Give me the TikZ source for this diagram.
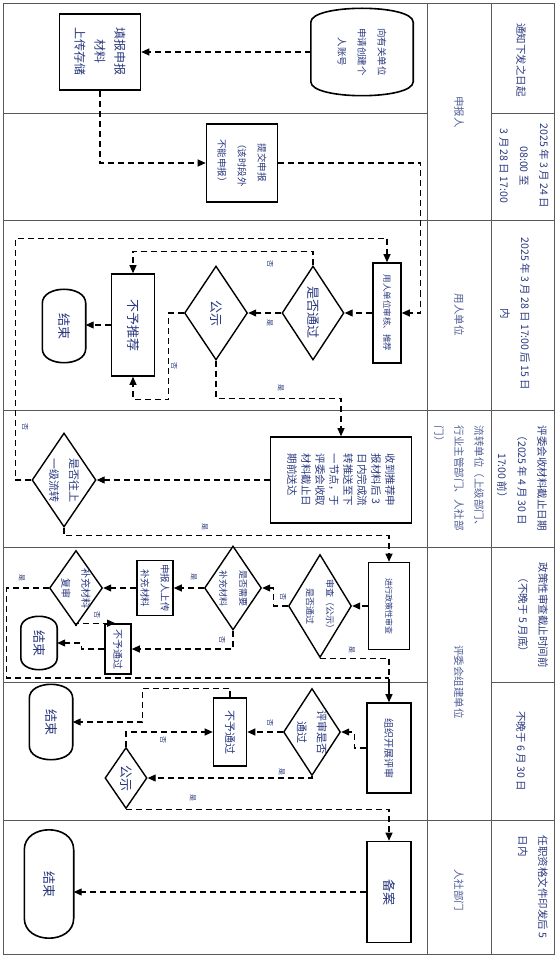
\documentclass[tikz,border=0pt]{standalone}
\usepackage{fontspec}
\setmainfont{Noto Sans CJK SC}
\usetikzlibrary{shapes.geometric,arrows.meta}
\definecolor{ink}{RGB}{40,55,125}
\definecolor{laneink}{RGB}{80,95,150}
\tikzset{
  outl/.style={draw=black,line width=1.6pt},
  box/.style={rectangle,outl,inner sep=0pt},
  decision/.style={diamond,draw=black,line width=1.4pt,inner sep=0pt},
  term/.style={rectangle,inner sep=0pt},
  sz/.style 2 args={minimum width=#1pt,minimum height=#2pt},
  txt/.style={rotate=-90,align=center,text=ink,font=\fontsize{#1}{20}\selectfont},
  flow/.style={line width=1.1pt,dash pattern=on 6pt off 4pt,-{Triangle[length=8pt,width=7pt]}},
  flowline/.style={line width=1.1pt,dash pattern=on 6pt off 4pt},
  solidflow/.style={line width=1.1pt,-{Triangle[length=8pt,width=7pt]}},
  yn/.style={rotate=-90,text=ink,font=\fontsize{7}{7}\selectfont,inner sep=0pt},
  lane/.style={draw=gray!70!black,line width=0.9pt},
  side/.style={rotate=-90,align=center,text=laneink,font=\fontsize{10.5}{20}\selectfont},
  when/.style={rotate=-90,align=center,text=ink,font=\fontsize{10.5}{20}\selectfont}
}
% outline of a terminal: straight sides, curved ends
\newcommand\termline[2]{%
  \draw[outl] ([yshift=-#2pt]#1.north west) -- ([yshift=#2pt]#1.south west)
    .. controls ([yshift=-#2pt/3]#1.south west) and ([yshift=-#2pt/3]#1.south east) .. ([yshift=#2pt]#1.south east)
    -- ([yshift=-#2pt]#1.north east)
    .. controls ([yshift=#2pt/3]#1.north east) and ([yshift=#2pt/3]#1.north west) .. ([yshift=-#2pt]#1.north west) -- cycle;}
\begin{document}
\begin{tikzpicture}[x=1pt,y=-1pt]
\useasboundingbox (0,0) rectangle (557,957);
% lanes
\draw[lane] (3,3) rectangle (554,954);
\draw[lane] (427,3) -- (427,954) (491,3) -- (491,954);
\foreach \y in {113,220,410,547,682,820}
  \draw[lane] (3,\y) -- (427,\y) (491,\y) -- (554,\y);
\foreach \y in {220,410,547,820}
  \draw[lane] (427,\y) -- (491,\y);

% 申报人
\node[term,sz={102}{87},label={[txt=9.5]center:向有关单位\\申请创建个\\人账号}] (acct) at (362,52) {};
\termline{acct}{14}
\node[box,sz={81}{76},label={[txt=12]center:填报申报\\材料\\上传存储}] (fill) at (100,52) {};
\node[box,sz={71}{78},label={[txt=9.5]center:提交申报\\（该时段外\\不能申报）}] (submit) at (242,163) {};

% 用人单位
\node[box,sz={28}{100},label={[txt=8.5]center:用人单位审核、推荐}] (unitrev) at (387,313) {};
\node[decision,sz={62}{94},label={[txt=13]center:是否通过}] (pass1) at (313,313) {};
\node[decision,sz={63}{94},label={[txt=13]center:公示}] (pub1) at (216,313) {};
\node[box,sz={43}{102},label={[txt=13]center:不予推荐}] (norec) at (133,325) {};
\node[term,sz={43}{73},label={[txt=13]center:结束}] (end1) at (64,326) {};
\termline{end1}{14}

% 流转单位
\node[box,sz={141}{86},label={[txt=10.5,align=left,font=\fontsize{10.5}{14}\selectfont]center:收到推荐申\\报材料后 3\\日内完成流\\转推送至下\\一节点，于\\评委会收取\\材料截止日\\期前送达}] (recv) at (341,480) {};
\node[decision,sz={64}{94},label={[txt=11]center:是否往上\\一级流转}] (upq) at (64,480) {};

% 评委会组建单位
\node[box,sz={41}{87},label={[txt=8]center:进行政策性审查}] (polrev) at (389,606) {};
\node[decision,sz={63}{103},label={[txt=9]center:审查（公示）\\是否通过}] (chk) at (320,606) {};
\node[decision,sz={57}{84},label={[txt=9]center:是否需要\\补充材料}] (needq) at (233,588) {};
\node[box,sz={36}{55},label={[txt=9.5]center:申报人上传\\补充材料}] (upload) at (155,588) {};
\node[decision,sz={53}{75},label={[txt=10]center:补充材料\\复审}] (rechk) at (76,588) {};
\node[box,sz={26}{50},label={[txt=10]center:不予通过}] (fail1) at (118,649) {};
\node[term,sz={36}{53},label={[txt=13]center:结束}] (end2) at (39,643) {};
\termline{end2}{12}

\node[box,sz={44}{90},label={[txt=10]center:组织开展评审}] (org) at (389,748) {};
\node[decision,sz={57}{87},label={[txt=11]center:评审是否\\通过}] (evalq) at (312,732) {};
\node[box,sz={33}{68},label={[txt=11]center:不予通过}] (fail2) at (230,732) {};
\node[decision,sz={42}{61},label={[txt=13]center:公示}] (pub2) at (126,778) {};
\node[term,sz={43}{75},label={[txt=13]center:结束}] (end3) at (51,722) {};
\termline{end3}{14}

% 人社部门
\node[box,sz={44}{101},label={[txt=13]center:备案}] (file) at (389,892) {};
\node[term,sz={49}{108},label={[txt=13]center:结束}] (end4) at (49,884) {};
\termline{end4}{20}

\coordinate (j6) at (389,682);

% connectors
\draw[flow] (acct.west) -- (fill.east);
\draw[flow] (fill.south) |- (submit.west);
\draw[flow] (submit.east) -| ([xshift=19pt]unitrev.east) -- (unitrev.east);
\draw[flow] (unitrev.west) -- (pass1.east);
\draw[flow] (pass1.west) -- (pub1.east);
\draw[flow] (pass1.north) -- ++(0,-14) -| (norec.north);
\draw[flow] (pub1.west) -- ++(-15,0) |- ([yshift=-23pt]norec.south) -- (norec.south);
\draw[flow] (norec.west) -- (norec.west -| end1.east);
\draw[flow] (pub1.south) |- ([yshift=38pt]recv.north) -- (recv.north);
\draw[flow] (recv.west) -- (upq.east);
\draw[flow] (upq.west) -- ++(-16,0) |- ([yshift=24pt]unitrev.north) -- (unitrev.north);
\draw[flow] (upq.south) |- ([yshift=26pt]polrev.north) -- (polrev.north);
\draw[flow] (polrev.west) -- (chk.east);
\draw[flow] (chk.west) -- ++(-14,0) |- (needq.east);
\draw[flow] (needq.west) -- (upload.east);
\draw[flow] (upload.west) -- (rechk.east);
\draw[flow] (rechk.south) |- ([xshift=11pt]fail1.north west);
\draw[flow] (needq.south) |- (fail1.east);
\draw[flow] (fail1.west) -- ++(-23,0) |- (end2.east);
\draw[flowline] (rechk.west) -- ++(-42,0) |- ([yshift=4pt]j6);
\draw[flowline] (chk.south) -| (j6);
\draw[solidflow] (j6) -- (org.north);
\draw[flow] (org.west) -- ++(-12,0) |- (evalq.east);
\draw[flow] (evalq.west) -- (fail2.east);
\draw[flow] (fail2.north) -- ++(0,-9) -| ([xshift=70pt]end3.east) -- (end3.east);
\draw[flow] (evalq.south) |- (pub2.east);
\draw[flow] (pub2.north) |- (fail2.west);
\draw[flow] (pub2.south) -| (file.north);
\draw[flow] (file.west) -- (file.west -| end4.east);

% yes / no
\node[yn] (n1) at (270,264) {否};
\node[yn] (y1) at (270,323) {是};
\node[yn] (n2) at (174,366) {否};
\node[yn] (y2) at (281,388) {是};
\node[yn] (n3) at (25,427) {否};
\node[yn] (y3) at (205,527) {是};
\node[yn] (n4) at (283,597) {否};
\node[yn] (y4) at (194,577) {是};
\node[yn] (n5) at (97,615) {否};
\node[yn] (n6) at (222,640) {否};
\node[yn] (y5) at (22,578) {是};
\node[yn] (y6) at (352,650) {是};
\node[yn] (n7) at (270,723) {否};
\node[yn] (y7) at (282,772) {是};
\node[yn] (n8) at (163,740) {否};
\node[yn] (y8) at (193,798) {是};

% lane names
\node[side] (s1) at (459,112) {申报人};
\node[side] (s2) at (459,315) {用人单位};
\node[side,align=left] (s3) at (459,478) {流转单位（上级部门、\\行业主管部门、人社部\\门）};
\node[side] (s4) at (459,682) {评委会组建单位};
\node[side] (s5) at (459,890) {人社部门};

% time limits
\node[when] (w1) at (521,60) {通知下发之日起};
\node[when] (w2) at (524,166) {2025 年 3 月 24 日\\08:00 至\\3 月 28 日 17:00};
\node[when] (w3) at (515,314) {2025 年 3 月 28 日 17:00 后 15 日\\内};
\node[when] (w4) at (522,478) {评委会收材料截止日期\\（2025 年 4 月 30 日\\17:00 前）};
\node[when] (w5) at (533,615) {政策性审查截止时间前\\（不晚于 5 月底）};
\node[when] (w6) at (521,751) {不晚于 6 月 30 日};
\node[when,align=left] (w7) at (533,887) {任职资格文件印发后 5\\日内};
\end{tikzpicture}
\end{document}
